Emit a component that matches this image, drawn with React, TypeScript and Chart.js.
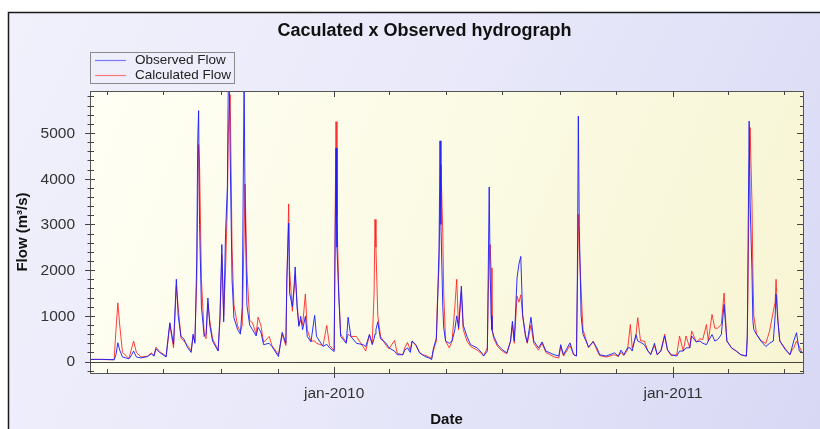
import { useEffect, useRef } from "react";
import { Chart, registerables } from "chart.js";

Chart.register(...registerables);

const W = 820;
const H = 429;

const TITLE = "Caculated x Observed hydrograph";
const Y_TITLE = "Flow (m³/s)";
const X_TITLE = "Date";
const SERIES_NAMES = ["Observed Flow", "Calculated Flow"];

const X_MIN_DATE = "2009-04-13";
const X_MAX_DATE = "2011-05-21";
const Y_MIN = -250;
const Y_MAX = 5920;

const DATES = [
  "2009-04-13", "2009-04-24", "2009-05-09", "2009-05-11", "2009-05-13", "2009-05-15", "2009-05-18", "2009-05-25",
  "2009-05-28", "2009-05-30", "2009-06-02", "2009-06-07", "2009-06-14", "2009-06-18", "2009-06-21", "2009-06-23",
  "2009-06-27", "2009-07-04", "2009-07-06", "2009-07-08", "2009-07-10", "2009-07-12", "2009-07-15", "2009-07-17",
  "2009-07-20", "2009-07-23", "2009-07-27", "2009-07-31", "2009-08-02", "2009-08-04", "2009-08-06", "2009-08-07",
  "2009-08-08", "2009-08-09", "2009-08-11", "2009-08-14", "2009-08-16", "2009-08-18", "2009-08-20", "2009-08-23",
  "2009-08-29", "2009-08-31", "2009-09-02", "2009-09-04", "2009-09-06", "2009-09-08", "2009-09-09", "2009-09-10",
  "2009-09-11", "2009-09-13", "2009-09-15", "2009-09-19", "2009-09-22", "2009-09-24", "2009-09-26", "2009-09-27",
  "2009-09-29", "2009-10-02", "2009-10-05", "2009-10-09", "2009-10-11", "2009-10-14", "2009-10-17", "2009-10-23",
  "2009-10-26", "2009-11-02", "2009-11-06", "2009-11-10", "2009-11-11", "2009-11-13", "2009-11-14", "2009-11-17",
  "2009-11-19", "2009-11-20", "2009-11-22", "2009-11-24", "2009-11-26", "2009-11-28", "2009-12-01", "2009-12-03",
  "2009-12-07", "2009-12-11", "2009-12-13", "2009-12-20", "2009-12-24", "2009-12-27", "2010-01-01", "2010-01-02",
  "2010-01-03", "2010-01-04", "2010-01-06", "2010-01-08", "2010-01-14", "2010-01-16", "2010-01-19", "2010-01-25",
  "2010-02-01", "2010-02-04", "2010-02-08", "2010-02-11", "2010-02-13", "2010-02-14", "2010-02-15", "2010-02-17",
  "2010-02-19", "2010-02-20", "2010-02-26", "2010-03-01", "2010-03-07", "2010-03-10", "2010-03-16", "2010-03-18",
  "2010-03-21", "2010-03-24", "2010-03-26", "2010-03-30", "2010-04-03", "2010-04-06", "2010-04-10", "2010-04-13",
  "2010-04-16", "2010-04-18", "2010-04-21", "2010-04-22", "2010-04-24", "2010-04-25", "2010-04-26", "2010-04-28",
  "2010-04-29", "2010-05-01", "2010-05-05", "2010-05-08", "2010-05-11", "2010-05-13", "2010-05-15", "2010-05-18",
  "2010-05-20", "2010-05-24", "2010-05-28", "2010-06-04", "2010-06-09", "2010-06-11", "2010-06-15", "2010-06-16",
  "2010-06-17", "2010-06-18", "2010-06-19", "2010-06-20", "2010-06-22", "2010-06-26", "2010-07-01", "2010-07-06",
  "2010-07-10", "2010-07-12", "2010-07-14", "2010-07-17", "2010-07-19", "2010-07-21", "2010-07-23", "2010-07-26",
  "2010-07-28", "2010-08-01", "2010-08-04", "2010-08-09", "2010-08-13", "2010-08-17", "2010-08-26", "2010-08-31",
  "2010-09-02", "2010-09-05", "2010-09-12", "2010-09-16", "2010-09-19", "2010-09-20", "2010-09-21", "2010-09-22",
  "2010-09-24", "2010-09-26", "2010-10-02", "2010-10-07", "2010-10-11", "2010-10-14", "2010-10-21", "2010-10-30",
  "2010-11-03", "2010-11-06", "2010-11-09", "2010-11-13", "2010-11-16", "2010-11-18", "2010-11-22", "2010-11-24",
  "2010-11-27", "2010-12-01", "2010-12-05", "2010-12-08", "2010-12-12", "2010-12-15", "2010-12-19", "2010-12-23",
  "2010-12-26", "2010-12-30", "2011-01-05", "2011-01-08", "2011-01-12", "2011-01-15", "2011-01-19", "2011-01-21",
  "2011-01-26", "2011-01-30", "2011-02-02", "2011-02-06", "2011-02-08", "2011-02-12", "2011-02-15", "2011-02-18",
  "2011-02-22", "2011-02-25", "2011-02-28", "2011-03-05", "2011-03-10", "2011-03-15", "2011-03-21", "2011-03-22",
  "2011-03-23", "2011-03-24", "2011-03-25", "2011-03-27", "2011-03-28", "2011-03-29", "2011-04-01", "2011-04-06",
  "2011-04-11", "2011-04-15", "2011-04-19", "2011-04-21", "2011-04-22", "2011-04-24", "2011-04-26", "2011-05-02",
  "2011-05-07", "2011-05-09", "2011-05-11", "2011-05-14", "2011-05-17", "2011-05-20",
];

const OBSERVED = [
  45, 50, 40, 150, 410, 250, 100, 60,
  150, 230, 100, 80, 110, 170, 120, 280,
  200, 100, 500, 850, 600, 380, 1800, 1000,
  550, 500, 310, 200, 600, 400, 2200, 4800,
  5490, 3000, 1200, 550, 600, 1390, 800, 450,
  230, 1000, 2560, 870, 2800, 3840, 6200, 6300,
  4500, 1800, 960, 700, 600, 1200, 6200, 3500,
  1230, 800, 700, 560, 750, 650, 370, 400,
  330, 110, 640, 400, 1800, 3030, 1500, 1200,
  1700, 2070, 1200, 770, 990, 700, 990, 550,
  430, 1010, 550, 330, 380, 300, 220, 2500,
  4670, 2500, 1420, 550, 400, 970, 550, 400,
  370, 330, 590, 370, 500, 600, 700, 870,
  600, 500, 400, 300, 230, 150, 150, 250,
  300, 200, 450, 370, 190, 150, 100, 80,
  45, 300, 500, 1000, 2500, 4830, 3000, 1200,
  740, 450, 400, 450, 700, 1000, 740, 1650,
  800, 550, 370, 300, 190, 120, 230, 2000,
  3820, 2000, 1000, 700, 550, 370, 260, 190,
  450, 880, 450, 1830, 2130, 2300, 1030, 590,
  420, 970, 450, 300, 430, 230, 150, 120,
  370, 150, 410, 150, 120, 2000, 5370, 3000,
  1000, 600, 320, 430, 300, 150, 120, 190,
  120, 250, 150, 300, 300, 230, 590, 450,
  420, 370, 230, 150, 400, 150, 230, 560,
  260, 150, 120, 230, 230, 300, 300, 560,
  430, 450, 400, 370, 450, 590, 450, 480,
  590, 1250, 450, 300, 230, 150, 120, 590,
  3000, 5260, 3500, 2000, 900, 700, 590, 440,
  330, 400, 450, 1000, 1470, 870, 450, 260,
  150, 300, 450, 630, 230, 200,
];

const CALCULATED = [
  50, 45, 40, 700, 1285, 800, 200, 70,
  300, 450, 200, 100, 120, 190, 130, 315,
  220, 120, 450, 830, 550, 300, 1650, 1200,
  520, 450, 350, 240, 550, 450, 1800, 3500,
  4750, 4320, 1800, 600, 500, 1270, 900, 500,
  250, 900, 2340, 1000, 2000, 3470, 5000, 5500,
  5840, 2500, 1250, 780, 650, 800, 2800, 3880,
  2000, 900, 850, 600, 970, 800, 420, 550,
  350, 150, 600, 350, 1700, 3450, 2000, 1100,
  1600, 1900, 1300, 800, 900, 800, 1480, 700,
  450, 450, 400, 350, 790, 350, 250, 3000,
  5250, 3200, 1500, 600, 420, 600, 550, 550,
  330, 230, 590, 400, 1500, 3110, 2500, 1000,
  700, 550, 350, 280, 460, 180, 150, 300,
  420, 250, 450, 350, 200, 150, 130, 100,
  70, 250, 450, 1200, 2120, 3500, 4310, 2800,
  1500, 450, 300, 450, 1200, 1800, 700, 1520,
  700, 450, 330, 250, 170, 130, 300, 1500,
  2200, 2560, 2050, 700, 500, 330, 230, 170,
  450, 800, 400, 1430, 1300, 1460, 1000, 550,
  400, 800, 400, 250, 400, 200, 100, 80,
  330, 120, 350, 150, 130, 1500, 3220, 2500,
  1570, 700, 300, 450, 250, 130, 100, 150,
  110, 200, 130, 250, 810, 300, 550, 960,
  450, 450, 230, 170, 350, 150, 250, 600,
  250, 130, 150, 560, 230, 560, 300, 670,
  430, 500, 480, 810, 450, 1030, 730, 730,
  810, 1500, 450, 300, 230, 150, 120, 500,
  2000, 4000, 5120, 3500, 2000, 1000, 600, 450,
  400, 670, 1100, 1300, 1800, 900, 450, 280,
  150, 250, 300, 450, 330, 200,
];

const X_TICK_DATES = [
  "2009-05-01", "2009-07-01", "2009-09-01", "2009-11-01",
  "2010-01-01", "2010-03-01", "2010-05-01", "2010-07-01", "2010-09-01", "2010-11-01",
  "2011-01-01", "2011-03-01", "2011-05-01",
];
const X_TICK_LABELS: Record<string, string> = {
  "2010-01-01": "jan-2010",
  "2011-01-01": "jan-2011",
};
const Y_MAJOR_TICKS = [0, 1000, 2000, 3000, 4000, 5000];
const Y_MINOR_TICKS = [
  -200, 200, 400, 600, 800, 1200, 1400, 1600, 1800, 2200, 2400, 2600, 2800,
  3200, 3400, 3600, 3800, 4200, 4400, 4600, 4800, 5200, 5400, 5600, 5800,
];

const ORIGIN = Date.UTC(2009, 0, 1);
function dayNum(s: string): number {
  const [y, m, d] = s.split("-").map(Number);
  return Math.round((Date.UTC(y, m - 1, d) - ORIGIN) / 86400000);
}

const FONT = '"Liberation Sans", Arial, sans-serif';
const OBS_COLOR = "rgba(25,25,255,0.9)";
const CALC_COLOR = "rgba(255,30,30,0.85)";
const LEGEND_COLORS = ["rgb(120,120,255)", "rgb(255,120,120)"];

const decor = {
  id: "decor",
  beforeDraw(chart: any) {
    const { ctx, chartArea: a } = chart;
    ctx.save();
    ctx.fillStyle = "#ffffff";
    ctx.fillRect(0, 0, W, H);
    const g = ctx.createLinearGradient(8, 12, W, H);
    g.addColorStop(0, "#F1F1FC");
    g.addColorStop(0.5, "#E8E8FA");
    g.addColorStop(1, "#D8D8F5");
    ctx.fillStyle = g;
    ctx.fillRect(8, 12, W - 8, H - 12);
    ctx.strokeStyle = "#1a1a1a";
    ctx.lineWidth = 1.5;
    ctx.beginPath();
    ctx.moveTo(8.5, H);
    ctx.lineTo(8.5, 12.5);
    ctx.lineTo(W, 12.5);
    ctx.stroke();
    const pg = ctx.createLinearGradient(a.left, a.top, a.right, a.bottom);
    pg.addColorStop(0, "#FFFFF5");
    pg.addColorStop(1, "#F7F5D3");
    ctx.fillStyle = pg;
    ctx.fillRect(a.left, a.top, a.right - a.left, a.bottom - a.top);
    ctx.restore();
  },
  beforeDatasetsDraw(chart: any) {
    const { ctx, chartArea: a, scales } = chart;
    const y0 = Math.round(scales.y.getPixelForValue(0)) + 0.5;
    ctx.save();
    ctx.strokeStyle = "#444";
    ctx.lineWidth = 1;
    ctx.beginPath();
    ctx.moveTo(a.left, y0);
    ctx.lineTo(a.right, y0);
    ctx.stroke();
    ctx.restore();
  },
  afterDraw(chart: any) {
    const { ctx, chartArea: a, scales } = chart;
    const xs = scales.x;
    const ys = scales.y;
    ctx.save();
    ctx.strokeStyle = "#555";
    ctx.lineWidth = 1;
    ctx.strokeRect(a.left + 0.5, a.top + 0.5, a.right - a.left, a.bottom - a.top);

    ctx.strokeStyle = "#444";
    ctx.beginPath();
    for (const v of Y_MAJOR_TICKS) {
      const py = Math.round(ys.getPixelForValue(v)) + 0.5;
      ctx.moveTo(a.left - 5, py);
      ctx.lineTo(a.left + 5, py);
      ctx.moveTo(a.right - 6, py);
      ctx.lineTo(a.right, py);
    }
    for (const v of Y_MINOR_TICKS) {
      const py = Math.round(ys.getPixelForValue(v)) + 0.5;
      ctx.moveTo(a.left - 2.5, py);
      ctx.lineTo(a.left + 4, py);
      ctx.moveTo(a.right - 3, py);
      ctx.lineTo(a.right, py);
    }
    for (const d of X_TICK_DATES) {
      const px = Math.round(xs.getPixelForValue(dayNum(d))) + 0.5;
      const major = !!X_TICK_LABELS[d];
      if (major) {
        ctx.moveTo(px, a.bottom - 6);
        ctx.lineTo(px, a.bottom + 5);
        ctx.moveTo(px, a.top);
        ctx.lineTo(px, a.top + 6);
      } else {
        ctx.moveTo(px, a.bottom - 4);
        ctx.lineTo(px, a.bottom + 1);
        ctx.moveTo(px, a.top);
        ctx.lineTo(px, a.top + 4);
      }
    }
    ctx.stroke();

    ctx.fillStyle = "#333";
    ctx.font = `15.5px ${FONT}`;
    ctx.textAlign = "right";
    ctx.textBaseline = "middle";
    for (const v of Y_MAJOR_TICKS) {
      ctx.fillText(String(v), a.left - 15, ys.getPixelForValue(v) + 0.5);
    }
    ctx.textAlign = "center";
    ctx.textBaseline = "alphabetic";
    for (const d of X_TICK_DATES) {
      const lbl = X_TICK_LABELS[d];
      if (lbl) ctx.fillText(lbl, xs.getPixelForValue(dayNum(d)), 398);
    }

    ctx.fillStyle = "#111";
    ctx.font = `bold 18px ${FONT}`;
    ctx.fillText(TITLE, 424.5, 36);
    ctx.font = `bold 15px ${FONT}`;
    ctx.fillText(X_TITLE, (a.left + a.right) / 2, 424);
    ctx.save();
    ctx.translate(26.5, (a.top + a.bottom) / 2);
    ctx.rotate(-Math.PI / 2);
    ctx.fillText(Y_TITLE, 0, 0);
    ctx.restore();

    ctx.strokeStyle = "#8a8a8a";
    ctx.lineWidth = 1;
    ctx.strokeRect(90.5, 52.5, 144, 31);
    ctx.font = `13.5px ${FONT}`;
    ctx.textAlign = "left";
    ctx.textBaseline = "middle";
    SERIES_NAMES.forEach((name, i) => {
      const ly = 60.5 + i * 15;
      ctx.strokeStyle = LEGEND_COLORS[i];
      ctx.lineWidth = 1.2;
      ctx.beginPath();
      ctx.moveTo(95, ly);
      ctx.lineTo(126, ly);
      ctx.stroke();
      ctx.fillStyle = "#222";
      ctx.fillText(name, 135, ly - 0.5);
    });
    ctx.restore();
  },
};

export default function App() {
  const ref = useRef<HTMLCanvasElement | null>(null);

  useEffect(() => {
    if (!ref.current) return;
    const xs = DATES.map(dayNum);
    const chart = new Chart(ref.current, {
      type: "line",
      data: {
        datasets: [
          {
            label: SERIES_NAMES[0],
            data: xs.map((x, i) => ({ x, y: OBSERVED[i] })),
            borderColor: OBS_COLOR,
            borderWidth: 1,
            pointRadius: 0,
            tension: 0,
          },
          {
            label: SERIES_NAMES[1],
            data: xs.map((x, i) => ({ x, y: CALCULATED[i] })),
            borderColor: CALC_COLOR,
            borderWidth: 1,
            pointRadius: 0,
            tension: 0,
          },
        ],
      },
      options: {
        animation: false,
        responsive: false,
        devicePixelRatio: 1,
        layout: { padding: { left: 90, top: 91, right: 17, bottom: 56 } },
        plugins: {
          legend: { display: false },
          title: { display: false },
          tooltip: { enabled: false },
        },
        scales: {
          x: { type: "linear", display: false, min: dayNum(X_MIN_DATE), max: dayNum(X_MAX_DATE) },
          y: { type: "linear", display: false, min: Y_MIN, max: Y_MAX },
        },
      },
      plugins: [decor],
    });
    return () => chart.destroy();
  }, []);

  return (
    <div style={{ position: "fixed", left: 0, top: 0, width: W, height: H }}>
      <canvas ref={ref} width={W} height={H} style={{ width: W, height: H, display: "block" }} />
    </div>
  );
}
